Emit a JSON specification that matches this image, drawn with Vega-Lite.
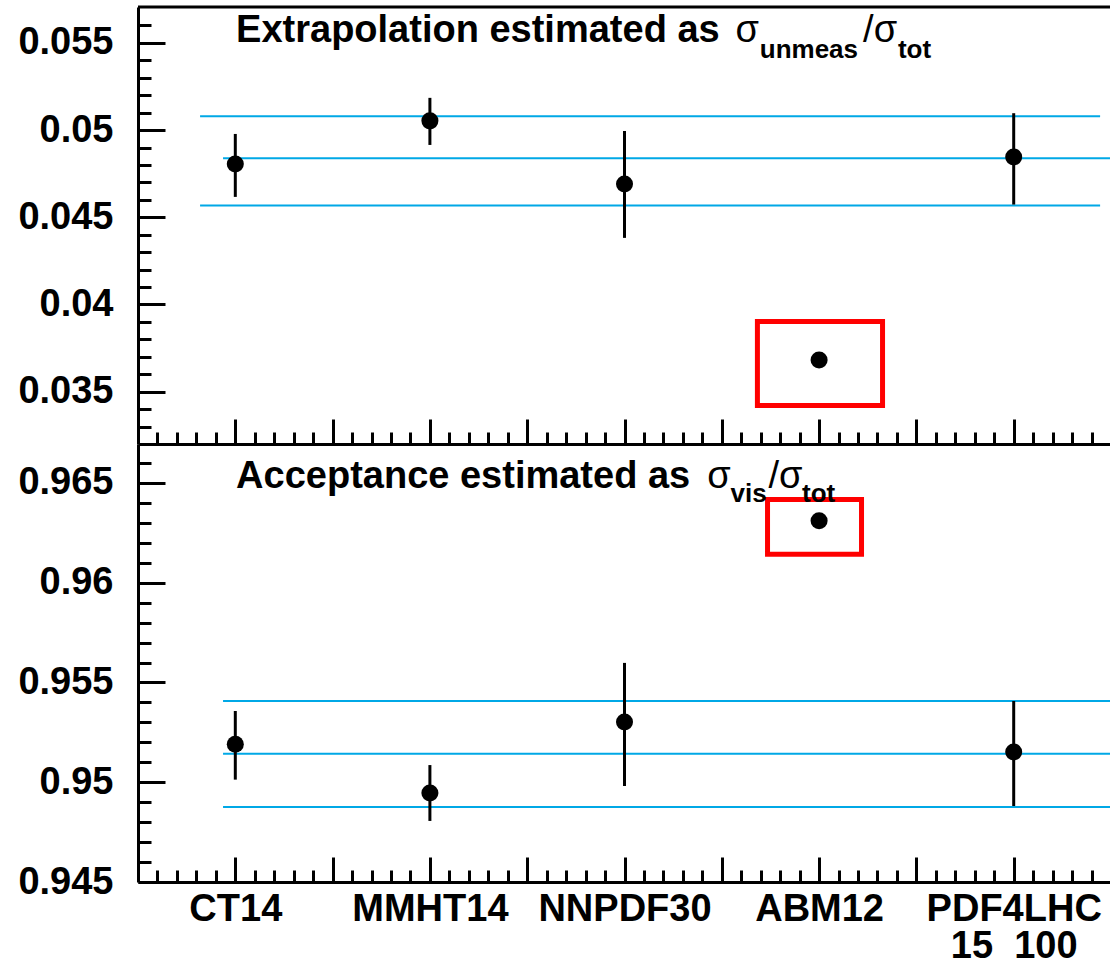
{
  "$schema": "https://vega.github.io/schema/vega-lite/v6.json",
  "background": "white",
  "padding": {"left": 17, "top": 5, "right": 0, "bottom": 0},
  "autosize": {"type": "pad"},
  "config": {"view": {"stroke": null}, "font": "Liberation Sans"},
  "spacing": 0,
  "bounds": "flush",
  "datasets": {
    "extrap": [
      {"pdf": "CT14", "x": 0.5, "value": 0.04806, "lo": 0.04617, "hi": 0.04978},
      {"pdf": "MMHT14", "x": 1.5, "value": 0.05053, "lo": 0.04915, "hi": 0.05185},
      {"pdf": "NNPDF30", "x": 2.5, "value": 0.04691, "lo": 0.04382, "hi": 0.04995},
      {"pdf": "ABM12", "x": 3.5, "value": 0.03682},
      {"pdf": "PDF4LHC15_100", "x": 4.5, "value": 0.04846, "lo": 0.04573, "hi": 0.05097}
    ],
    "accept": [
      {"pdf": "CT14", "x": 0.5, "value": 0.9519, "lo": 0.95013, "hi": 0.95357},
      {"pdf": "MMHT14", "x": 1.5, "value": 0.94946, "lo": 0.94806, "hi": 0.95086},
      {"pdf": "NNPDF30", "x": 2.5, "value": 0.95302, "lo": 0.94981, "hi": 0.95598},
      {"pdf": "ABM12", "x": 3.5, "value": 0.9631},
      {"pdf": "PDF4LHC15_100", "x": 4.5, "value": 0.95152, "lo": 0.94881, "hi": 0.95407}
    ],
    "bandTop": [
      {"y": 0.0508, "x1": 0.319, "x2": 4.944},
      {"y": 0.04839, "x1": 0.437, "x2": 5.0},
      {"y": 0.04567, "x1": 0.319, "x2": 4.944}
    ],
    "bandBottom": [
      {"y": 0.95407, "x1": 0.437, "x2": 5.0},
      {"y": 0.95143, "x1": 0.437, "x2": 5.0},
      {"y": 0.94876, "x1": 0.437, "x2": 5.0}
    ],
    "boxTop": [{"x1": 3.183, "x2": 3.826, "y1": 0.03903, "y2": 0.03421}],
    "boxBottom": [{"x1": 3.235, "x2": 3.718, "y1": 0.96417, "y2": 0.96142}]
  },
  "vconcat": [
    {
      "width": 973,
      "height": 437,
      "layer": [
        {
          "data": {"name": "bandTop"},
          "mark": {"type": "rule", "color": "#00a8e6", "strokeWidth": 2},
          "encoding": {
            "x": {
              "field": "x1", "type": "quantitative",
              "scale": {"domain": [0, 5], "nice": false, "zero": false},
              "axis": {
                "title": null, "grid": false, "labels": false, "tickCount": 200,
                "values": [0.1,0.2,0.3,0.4,0.5,0.6,0.7,0.8,0.9,1.0,1.1,1.2,1.3,1.4,1.5,1.6,1.7,1.8,1.9,2.0,2.1,2.2,2.3,2.4,2.5,2.6,2.7,2.8,2.9,3.0,3.1,3.2,3.3,3.4,3.5,3.6,3.7,3.8,3.9,4.0,4.1,4.2,4.3,4.4,4.5,4.6,4.7,4.8,4.9],
                "tickSize": {"condition": {"test": "round(datum.value*10) % 5 == 0", "value": -25}, "value": -12},
                "tickWidth": 3, "tickColor": "black",
                "domainWidth": 3, "domainColor": "black"
              }
            },
            "x2": {"field": "x2"},
            "y": {
              "field": "y", "type": "quantitative",
              "scale": {"domain": [0.032, 0.05706], "nice": false, "zero": false},
              "axis": {
                "title": null, "grid": false, "tickCount": 200,
                "values": [0.033,0.034,0.035,0.036,0.037,0.038,0.039,0.040,0.041,0.042,0.043,0.044,0.045,0.046,0.047,0.048,0.049,0.050,0.051,0.052,0.053,0.054,0.055,0.056],
                "labelExpr": "round(datum.value*1000) % 5 == 0 ? toString(round(datum.value*1000)/1000) : ''",
                "labelFont": "Liberation Sans", "labelFontSize": 38, "labelFontWeight": "bold", "labelColor": "black",
                "labelPadding": 52, "labelOverlap": false, "labelFlush": false,
                "tickSize": {"condition": {"test": "round(datum.value*1000) % 5 == 0", "value": -27}, "value": -13},
                "tickWidth": 3, "tickColor": "black",
                "domainWidth": 3, "domainColor": "black",
                "minExtent": 120, "maxExtent": 120
              }
            }
          }
        },
        {
          "data": {"name": "extrap"},
          "mark": {"type": "rule", "color": "black", "strokeWidth": 3},
          "encoding": {
            "x": {"field": "x", "type": "quantitative"},
            "y": {"field": "lo", "type": "quantitative"},
            "y2": {"field": "hi"}
          }
        },
        {
          "data": {"name": "extrap"},
          "mark": {"type": "circle", "color": "black", "opacity": 1, "size": 290},
          "encoding": {
            "x": {"field": "x", "type": "quantitative"},
            "y": {"field": "value", "type": "quantitative"}
          }
        },
        {
          "data": {"name": "boxTop"},
          "mark": {"type": "rect", "filled": false, "stroke": "#ff0000", "strokeWidth": 5},
          "encoding": {
            "x": {"field": "x1", "type": "quantitative"},
            "x2": {"field": "x2"},
            "y": {"field": "y1", "type": "quantitative"},
            "y2": {"field": "y2"}
          }
        },
        {
          "data": {"values": [{}]},
          "mark": {"type": "rule", "color": "black", "strokeWidth": 3},
          "encoding": {"y": {"datum": 0.05706, "type": "quantitative"}}
        },
        {
          "data": {"values": [{}]},
          "mark": {"type": "text", "text": "Extrapolation estimated as", "align": "left", "baseline": "alphabetic", "fontSize": 38, "fontWeight": "bold", "color": "black"},
          "encoding": {"x": {"datum": 0.504, "type": "quantitative"}, "y": {"datum": 0.05504, "type": "quantitative"}}
        },
        {
          "data": {"values": [{}]},
          "mark": {"type": "text", "text": "σ", "align": "left", "baseline": "alphabetic", "fontSize": 38, "fontWeight": "normal", "color": "black"},
          "encoding": {"x": {"datum": 3.07, "type": "quantitative"}, "y": {"datum": 0.05504, "type": "quantitative"}}
        },
        {
          "data": {"values": [{}]},
          "mark": {"type": "text", "text": "unmeas", "align": "left", "baseline": "alphabetic", "fontSize": 26, "fontWeight": "bold", "color": "black"},
          "encoding": {"x": {"datum": 3.195, "type": "quantitative"}, "y": {"datum": 0.05415, "type": "quantitative"}}
        },
        {
          "data": {"values": [{}]},
          "mark": {"type": "text", "text": "/σ", "align": "left", "baseline": "alphabetic", "fontSize": 38, "fontWeight": "normal", "color": "black"},
          "encoding": {"x": {"datum": 3.726, "type": "quantitative"}, "y": {"datum": 0.05504, "type": "quantitative"}}
        },
        {
          "data": {"values": [{}]},
          "mark": {"type": "text", "text": "tot", "align": "left", "baseline": "alphabetic", "fontSize": 26, "fontWeight": "bold", "color": "black"},
          "encoding": {"x": {"datum": 3.905, "type": "quantitative"}, "y": {"datum": 0.05415, "type": "quantitative"}}
        }
      ]
    },
    {
      "width": 973,
      "height": 438,
      "layer": [
        {
          "data": {"name": "bandBottom"},
          "mark": {"type": "rule", "color": "#00a8e6", "strokeWidth": 2},
          "encoding": {
            "x": {
              "field": "x1", "type": "quantitative",
              "scale": {"domain": [0, 5], "nice": false, "zero": false},
              "axis": {
                "title": null, "grid": false, "tickCount": 200,
                "values": [0.1,0.2,0.3,0.4,0.5,0.6,0.7,0.8,0.9,1.0,1.1,1.2,1.3,1.4,1.5,1.6,1.7,1.8,1.9,2.0,2.1,2.2,2.3,2.4,2.5,2.6,2.7,2.8,2.9,3.0,3.1,3.2,3.3,3.4,3.5,3.6,3.7,3.8,3.9,4.0,4.1,4.2,4.3,4.4,4.5,4.6,4.7,4.8,4.9],
                "labelExpr": "round(datum.value*10) % 10 == 5 ? (round(datum.value*10) == 45 ? ['PDF4LHC', '15 \u00a0100'] : ['CT14', 'MMHT14', 'NNPDF30', 'ABM12'][(round(datum.value*10) - 5) / 10]) : ''",
                "labelFont": "Liberation Sans", "labelFontSize": 38, "labelFontWeight": "bold", "labelColor": "black",
                "labelPadding": 33, "labelOverlap": false, "labelFlush": false, "labelLineHeight": 37,
                "tickSize": {"condition": {"test": "round(datum.value*10) % 5 == 0", "value": -25}, "value": -12},
                "tickWidth": 3, "tickColor": "black",
                "domainWidth": 3, "domainColor": "black"
              }
            },
            "x2": {"field": "x2"},
            "y": {
              "field": "y", "type": "quantitative",
              "scale": {"domain": [0.945, 0.96695], "nice": false, "zero": false},
              "axis": {
                "title": null, "grid": false, "tickCount": 200,
                "values": [0.945,0.946,0.947,0.948,0.949,0.950,0.951,0.952,0.953,0.954,0.955,0.956,0.957,0.958,0.959,0.960,0.961,0.962,0.963,0.964,0.965,0.966],
                "labelExpr": "round(datum.value*1000) % 5 == 0 ? toString(round(datum.value*1000)/1000) : ''",
                "labelFont": "Liberation Sans", "labelFontSize": 38, "labelFontWeight": "bold", "labelColor": "black",
                "labelPadding": 52, "labelOverlap": false, "labelFlush": false,
                "tickSize": {"condition": {"test": "round(datum.value*1000) % 5 == 0", "value": -27}, "value": -13},
                "tickWidth": 3, "tickColor": "black",
                "domainWidth": 3, "domainColor": "black",
                "minExtent": 120, "maxExtent": 120
              }
            }
          }
        },
        {
          "data": {"name": "accept"},
          "mark": {"type": "rule", "color": "black", "strokeWidth": 3},
          "encoding": {
            "x": {"field": "x", "type": "quantitative"},
            "y": {"field": "lo", "type": "quantitative"},
            "y2": {"field": "hi"}
          }
        },
        {
          "data": {"name": "accept"},
          "mark": {"type": "circle", "color": "black", "opacity": 1, "size": 290},
          "encoding": {
            "x": {"field": "x", "type": "quantitative"},
            "y": {"field": "value", "type": "quantitative"}
          }
        },
        {
          "data": {"name": "boxBottom"},
          "mark": {"type": "rect", "filled": false, "stroke": "#ff0000", "strokeWidth": 5},
          "encoding": {
            "x": {"field": "x1", "type": "quantitative"},
            "x2": {"field": "x2"},
            "y": {"field": "y1", "type": "quantitative"},
            "y2": {"field": "y2"}
          }
        },
        {
          "data": {"values": [{}]},
          "mark": {"type": "text", "text": "Acceptance estimated as", "align": "left", "baseline": "alphabetic", "fontSize": 38, "fontWeight": "bold", "color": "black"},
          "encoding": {"x": {"datum": 0.504, "type": "quantitative"}, "y": {"datum": 0.96475, "type": "quantitative"}}
        },
        {
          "data": {"values": [{}]},
          "mark": {"type": "text", "text": "σ", "align": "left", "baseline": "alphabetic", "fontSize": 38, "fontWeight": "normal", "color": "black"},
          "encoding": {"x": {"datum": 2.925, "type": "quantitative"}, "y": {"datum": 0.96475, "type": "quantitative"}}
        },
        {
          "data": {"values": [{}]},
          "mark": {"type": "text", "text": "vis", "align": "left", "baseline": "alphabetic", "fontSize": 26, "fontWeight": "bold", "color": "black"},
          "encoding": {"x": {"datum": 3.045, "type": "quantitative"}, "y": {"datum": 0.96405, "type": "quantitative"}}
        },
        {
          "data": {"values": [{}]},
          "mark": {"type": "text", "text": "/σ", "align": "left", "baseline": "alphabetic", "fontSize": 38, "fontWeight": "normal", "color": "black"},
          "encoding": {"x": {"datum": 3.24, "type": "quantitative"}, "y": {"datum": 0.96475, "type": "quantitative"}}
        },
        {
          "data": {"values": [{}]},
          "mark": {"type": "text", "text": "tot", "align": "left", "baseline": "alphabetic", "fontSize": 26, "fontWeight": "bold", "color": "black"},
          "encoding": {"x": {"datum": 3.412, "type": "quantitative"}, "y": {"datum": 0.96405, "type": "quantitative"}}
        }
      ]
    }
  ]
}
